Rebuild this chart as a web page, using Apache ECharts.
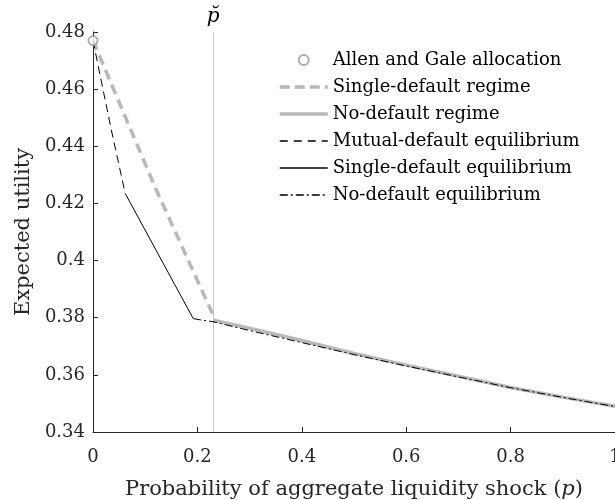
<!DOCTYPE html>
<html>
<head>
<meta charset="utf-8">
<script src="https://cdn.jsdelivr.net/npm/echarts@6/dist/echarts.min.js"></script>
<style>
  html, body { margin: 0; padding: 0; background: #fff; }
  #chart { width: 615px; height: 500px; }
</style>
</head>
<body>
<div id="chart"></div>
<script>
// values
const pCheck = 0.23;
const allenGale = [[0, 0.477]];
const singleRegimeP = [0, 0.12, 0.23];
const singleRegimeU = [0.477, 0.4252, 0.3810];
const noRegimeP = [0.23, 0.3, 0.4, 0.5, 0.6, 0.7, 0.8, 0.9, 1];
const noRegimeU = [0.3791, 0.3763, 0.3720, 0.3675, 0.3634, 0.3595, 0.3556, 0.3522, 0.3490];
const mutualEqP = [0, 0.035, 0.0617];
const mutualEqU = [0.477, 0.4458, 0.4235];
const singleEqP = [0.0617, 0.192];
const singleEqU = [0.4235, 0.3797];
const noEqP = [0.192, 0.21, 0.23, 0.3, 0.4, 0.5, 0.6, 0.7, 0.8, 0.9, 1];
const noEqU = [0.3797, 0.3791, 0.3786, 0.3755, 0.3713, 0.3671, 0.3631, 0.3593, 0.3555, 0.3521, 0.3489];

const zip = (xs, ys) => xs.map((x, i) => [x, ys[i]]);
const font = 'DejaVu Serif';
const axisCol = '#262626';
const grey = '#b8b8b8';
const noDot = { opacity: 0 };

let myChart = echarts.init(document.getElementById('chart'));

let option = {
  animation: false,
  grid: { left: 93, right: 0, top: 32, bottom: 68, outerBoundsMode: 'none' },
  legend: {
    orient: 'vertical',
    left: 278,
    top: 50,
    padding: 0,
    itemWidth: 48,
    itemHeight: 10,
    itemGap: 7,
    textStyle: { fontFamily: font, fontSize: 18, lineHeight: 20, color: '#000' },
    data: [
      { name: 'Allen and Gale allocation', icon: 'emptyCircle', itemStyle: { borderWidth: 2.5 } },
      { name: 'Single-default regime', itemStyle: noDot, lineStyle: { width: 3.5, type: [10, 5] } },
      { name: 'No-default regime', itemStyle: noDot, lineStyle: { width: 3.5 } },
      { name: 'Mutual-default equilibrium', itemStyle: noDot, lineStyle: { color: '#000', width: 1.5, type: [8, 6] } },
      { name: 'Single-default equilibrium', itemStyle: noDot, lineStyle: { color: '#000', width: 1.5 } },
      { name: 'No-default equilibrium', itemStyle: noDot, lineStyle: { color: '#000', width: 1.5 } }
    ]
  },
  xAxis: {
    type: 'value',
    min: 0, max: 1, interval: 0.2,
    name: 'Probability of aggregate liquidity shock ({i|p})',
    nameLocation: 'middle',
    nameGap: 47,
    nameTextStyle: { fontFamily: font, fontSize: 21, color: axisCol,
      rich: { i: { fontFamily: font, fontSize: 21, fontStyle: 'italic', color: axisCol } } },
    axisLine: { lineStyle: { color: axisCol, width: 1 } },
    axisTick: { inside: true, length: 5, lineStyle: { color: axisCol } },
    axisLabel: { fontFamily: font, fontSize: 18, color: axisCol, margin: 16 },
    splitLine: { show: false }
  },
  yAxis: {
    type: 'value',
    min: 0.34, max: 0.48, interval: 0.02,
    name: 'Expected utility',
    nameLocation: 'middle',
    nameGap: 57,
    nameTextStyle: { fontFamily: font, fontSize: 21, color: axisCol },
    axisLine: { show: true, lineStyle: { color: axisCol, width: 1 } },
    axisTick: { show: true, inside: true, length: 5, lineStyle: { color: axisCol } },
    axisLabel: { fontFamily: font, fontSize: 18, color: axisCol, margin: 8 },
    splitLine: { show: false }
  },
  series: [
    {
      name: 'Single-default regime',
      type: 'line', symbol: 'none',
      lineStyle: { color: grey, width: 3.5, type: [10, 6] },
      itemStyle: { color: grey },
      data: zip(singleRegimeP, singleRegimeU), z: 2,
      markLine: {
        silent: true,
        symbol: 'none',
        z: 1,
        lineStyle: { color: '#c8c8c8', width: 1, type: 'solid' },
        label: { show: true, position: 'end', distance: 5, formatter: 'p\u0306',
          fontFamily: font, fontSize: 20, fontStyle: 'italic', color: '#000' },
        data: [{ xAxis: pCheck }]
      }
    },
    {
      name: 'No-default regime',
      type: 'line', symbol: 'none',
      lineStyle: { color: grey, width: 3.5 },
      itemStyle: { color: grey },
      data: zip(noRegimeP, noRegimeU), z: 2
    },
    {
      name: 'Mutual-default equilibrium',
      type: 'line', symbol: 'none',
      lineStyle: { color: '#000', width: 1, type: [8, 5] },
      itemStyle: { color: '#000' },
      data: zip(mutualEqP, mutualEqU), z: 3
    },
    {
      name: 'Single-default equilibrium',
      type: 'line', symbol: 'none',
      lineStyle: { color: '#000', width: 1 },
      itemStyle: { color: '#000' },
      data: zip(singleEqP, singleEqU), z: 3
    },
    {
      name: 'No-default equilibrium',
      type: 'line', symbol: 'none',
      lineStyle: { color: '#000', width: 1, type: [8, 3, 2, 3] },
      itemStyle: { color: '#000' },
      data: zip(noEqP, noEqU), z: 3
    },
    {
      name: 'Allen and Gale allocation',
      type: 'scatter',
      symbol: 'emptyCircle',
      symbolSize: 9,
      itemStyle: { color: '#999', borderColor: '#999', borderWidth: 2.5 },
      data: allenGale, z: 4
    }
  ]
};

myChart.setOption(option);
</script>
</body>
</html>
